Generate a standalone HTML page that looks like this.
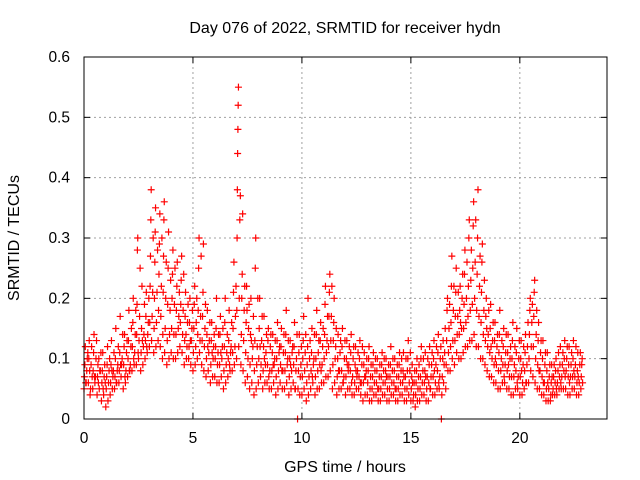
<!DOCTYPE html>
<html><head><meta charset="utf-8"><style>
html,body{margin:0;padding:0;background:#fff;}
svg{display:block;font-family:"Liberation Sans",sans-serif;}
</style></head><body>
<svg id="chart" width="640" height="480">
<text x="345" y="33" font-size="16" text-anchor="middle">Day 076 of 2022, SRMTID for receiver hydn</text>
<text x="345" y="472" font-size="16" text-anchor="middle">GPS time / hours</text>
<text transform="translate(19,238) rotate(-90)" font-size="16" text-anchor="middle">SRMTID / TECUs</text>
<g id="grid"></g><g id="ticks"></g><g id="points"></g>
<rect x="84" y="57" width="523" height="362" fill="none" stroke="#000" stroke-width="1"/>
</svg>
<script>
const xTicks=[0,5,10,15,20];
const yTicks=[0,0.1,0.2,0.3,0.4,0.5,0.6];
const yTickLabels=["0","0.1","0.2","0.3","0.4","0.5","0.6"];
const times=[0,0.2,0.4,0.6,0.8,1,1.2,1.4,1.6,1.8,2,2.2,2.4,2.6,2.8,3,3.2,3.4,3.6,3.8,4,4.2,4.4,4.6,4.8,5,5.2,5.4,5.6,5.8,6,6.2,6.4,6.6,6.8,7,7.2,7.4,7.6,7.8,8,8.2,8.4,8.6,8.8,9,9.2,9.4,9.6,9.8,10,10.2,10.4,10.6,10.8,11,11.2,11.4,11.6,11.8,12,12.2,12.4,12.6,12.8,13,13.2,13.4,13.6,13.8,14,14.2,14.4,14.6,14.8,15,15.2,15.4,15.6,15.8,16,16.2,16.4,16.6,16.8,17,17.2,17.4,17.6,17.8,18,18.2,18.4,18.6,18.8,19,19.2,19.4,19.6,19.8,20,20.2,20.4,20.6,20.8,21,21.2,21.4,21.6,21.8,22,22.2,22.4,22.6,22.8];
const valuesHundredths=[[5,7,9,12,6],[6,10,13,8,4],[5,8,11,14,7],[4,7,9,6,10],[3,6,8,11,5],[2,5,7,9,12],[4,6,9,13,8],[5,7,10,15,6],[6,8,11,17,9],[5,9,12,14,7],[7,10,13,18,8],[8,12,16,20,10],[9,14,19,28,30,11],[8,11,15,22,13],[10,13,17,21,12],[12,16,22,27,33,38],[11,15,20,26,31,35],[13,18,24,29,34],[10,14,21,27,33,36],[9,13,19,25,31],[11,15,20,24,28],[10,14,18,22,26],[12,16,19,23,27],[9,13,17,21,14],[10,12,16,20,13],[8,11,15,19,22],[10,14,18,25,30],[9,13,17,21,29],[7,10,14,18,12],[6,9,13,16,11],[7,10,12,15,20],[6,9,14,17,11],[5,8,12,16,20],[7,10,13,18,9],[8,11,15,21,26],[10,18,30,38,44,48,52,55],[9,14,20,24,34],[6,11,16,22,18],[5,9,14,20,13],[4,8,13,25,30],[6,10,15,20,12],[5,8,12,17,10],[6,9,13,15,7],[5,8,11,14,9],[4,7,10,13,16],[6,9,12,15,8],[5,8,11,14,18],[4,7,10,13,9],[6,9,12,16,5],[0,5,8,11,14],[4,7,10,13,17],[3,6,9,12,20],[5,8,11,15,7],[4,7,10,14,18],[5,9,13,16,8],[6,10,14,19,22],[7,12,17,21,24],[5,9,13,16,20],[4,7,10,14,8],[5,8,12,15,6],[4,7,10,13,9],[5,8,11,14,6],[4,6,9,12,8],[5,7,10,13,6],[3,6,9,11,7],[4,6,8,10,12],[3,5,7,9,11],[4,6,8,10,5],[3,5,7,9,11],[4,6,8,10,7],[3,5,7,9,12],[4,6,8,10,5],[3,5,7,9,11],[4,6,8,11,7],[3,5,8,10,13],[3,5,7,9,6],[2,4,6,8,10],[3,5,7,10,12],[4,6,8,11,7],[3,6,9,12,5],[4,7,10,13,8],[5,8,11,14,6],[0,4,7,10,13],[5,9,13,18,20],[8,12,16,22,27],[9,13,17,21,25],[10,14,18,22,16],[11,15,19,24,28],[12,17,22,30,33],[13,19,25,32,36],[12,18,24,30,38],[10,16,21,26,29],[9,13,17,20,15],[7,11,15,19,12],[6,9,13,16,10],[5,8,11,14,18],[6,9,12,15,7],[5,8,11,14,9],[4,7,10,13,16],[5,8,11,15,6],[4,7,10,13,8],[5,8,11,14,6],[6,10,14,18,20],[7,12,17,21,23],[5,9,13,16,8],[4,7,10,13,6],[3,5,8,11,6],[3,4,6,9,7],[4,6,8,10,5],[5,7,9,12,6],[5,8,10,13,7],[4,7,9,12,6],[5,7,10,13,8],[4,6,8,11,7],[5,7,9,10,6]];
const timesMid=[0.1,0.3,0.5,0.7,0.9,1.1,1.3,1.5,1.7,1.9,2.1,2.3,2.5,2.7,2.9,3.1,3.3,3.5,3.7,3.9,4.1,4.3,4.5,4.7,4.9,5.1,5.3,5.5,5.7,5.9,6.1,6.3,6.5,6.7,6.9,7.1,7.3,7.5,7.7,7.9,8.1,8.3,8.5,8.7,8.9,9.1,9.3,9.5,9.7,9.9,10.1,10.3,10.5,10.7,10.9,11.1,11.3,11.5,11.7,11.9,12.1,12.3,12.5,12.7,12.9,13.1,13.3,13.5,13.7,13.9,14.1,14.3,14.5,14.7,14.9,15.1,15.3,15.5,15.7,15.9,16.1,16.3,16.5,16.7,16.9,17.1,17.3,17.5,17.7,17.9,18.1,18.3,18.5,18.7,18.9,19.1,19.3,19.5,19.7,19.9,20.1,20.3,20.5,20.7,20.9,21.1,21.3,21.5,21.7,21.9,22.1,22.3,22.5,22.7];
const valuesMidHundredths=[[6,8,10,11],[5,9,12,7],[6,7,10,13],[5,8,8,11],[4,7,9,6],[3,6,8,10],[5,7,8,11],[6,8,9,12],[7,9,10,14],[6,8,11,13],[8,9,12,15],[9,11,14,18],[10,13,17,25],[9,12,14,19],[11,14,16,20],[13,17,21,30],[12,16,21,28],[12,17,22,30],[11,15,20,26],[10,14,18,23],[10,14,19,25],[11,15,17,21],[11,14,18,24],[10,12,16,19],[9,13,15,18],[9,12,16,20],[11,13,17,27],[8,12,15,19],[8,11,13,16],[7,10,12,14],[6,9,11,14],[7,10,12,15],[6,9,11,14],[8,11,12,16],[9,12,17,22],[12,20,33,37],[8,13,18,22],[7,10,15,19],[6,10,12,17],[5,9,12,20],[7,9,13,17],[6,9,11,14],[5,8,12,14],[6,9,10,13],[5,8,11,12],[5,8,11,14],[6,9,10,13],[5,8,11,12],[5,8,10,14],[4,7,9,12],[5,8,11,14],[4,7,10,13],[6,9,10,14],[5,8,11,13],[6,9,12,15],[7,11,13,17],[8,13,17,22],[6,10,12,15],[5,8,11,13],[6,7,10,13],[5,8,9,12],[4,7,10,12],[5,7,8,11],[4,6,9,12],[4,7,8,10],[3,5,7,9],[4,6,8,10],[3,5,7,9],[4,6,8,10],[3,5,7,9],[4,6,8,10],[3,5,7,9],[4,6,8,10],[3,5,7,10],[4,6,8,11],[3,4,6,8],[3,5,7,9],[4,6,8,10],[3,5,7,10],[5,7,9,11],[4,6,9,12],[5,7,10,12],[6,9,11,15],[8,11,15,19],[10,13,18,22],[11,14,17,21],[10,15,20,24],[12,16,20,26],[13,18,23,28],[14,20,26,33],[12,17,22,27],[10,14,18,23],[8,12,14,18],[7,10,13,16],[6,9,12,14],[5,8,10,13],[6,9,11,14],[5,7,10,12],[4,7,9,12],[5,7,10,13],[4,6,9,12],[6,9,12,16],[8,12,16,19],[6,10,14,18],[5,8,11,13],[4,6,9,11],[3,5,7,9],[4,5,7,9],[4,6,8,11],[5,7,9,11],[5,8,10,12],[4,7,9,11],[5,7,9,12],[4,6,9,11]];

const NS="http://www.w3.org/2000/svg";
const X0=84,X1=607,Y0=419,Y1=57,XMAX=24,YMAX=0.6;
const xs=t=>X0+(t/XMAX)*(X1-X0);
const ys=v=>Y0-(v/YMAX)*(Y0-Y1);
function mk(tag,attrs,parent){const e=document.createElementNS(NS,tag);for(const k in attrs)e.setAttribute(k,attrs[k]);parent.appendChild(e);return e;}
const grid=document.getElementById('grid'),ticks=document.getElementById('ticks'),pts=document.getElementById('points');
xTicks.forEach(t=>{
  const x=xs(t);
  if(t>0){const g=mk('line',{x1:x,x2:x,y1:Y0,y2:Y1,stroke:'#a0a0a0','stroke-dasharray':'2,3'},grid);
  
  }
  mk('line',{x1:x,x2:x,y1:Y0,y2:Y0-6,stroke:'#000'},ticks);
  mk('line',{x1:x,x2:x,y1:Y1,y2:Y1+6,stroke:'#000'},ticks);
  const l=mk('text',{x:x,y:Y0+24,'font-size':15.5,'text-anchor':'middle'},ticks);l.textContent=t;
  
  
});
yTicks.forEach((v,i)=>{
  const y=ys(v);
  if(v>0&&v<YMAX){const g=mk('line',{x1:X0,x2:X1,y1:y,y2:y,stroke:'#a0a0a0','stroke-dasharray':'2,3'},grid);
  
  }
  mk('line',{x1:X0,x2:X0+6,y1:y,y2:y,stroke:'#000'},ticks);
  mk('line',{x1:X1,x2:X1-6,y1:y,y2:y,stroke:'#000'},ticks);
  const l=mk('text',{x:X0-14,y:y+5,'font-size':15.5,'text-anchor':'end'},ticks);l.textContent=yTickLabels[i];
  
  
});
function drawSeries(ts,vs,slot){
  ts.forEach((t,i)=>{
    const vals=vs[i];
    vals.forEach((vh,j)=>{
      const x=xs(t)+j*(xs(slot)-xs(0))/vals.length;
      const y=ys(vh/100);
      const p=mk('path',{d:`M${x-3.5},${y}h7M${x},${y-3.5}v7`,stroke:'#ff0000','stroke-width':1.2,fill:'none'},pts);
      
      
    });
  });
}
drawSeries(times,valuesHundredths,0.1);
drawSeries(timesMid,valuesMidHundredths,0.1);
</script>
</body></html>
